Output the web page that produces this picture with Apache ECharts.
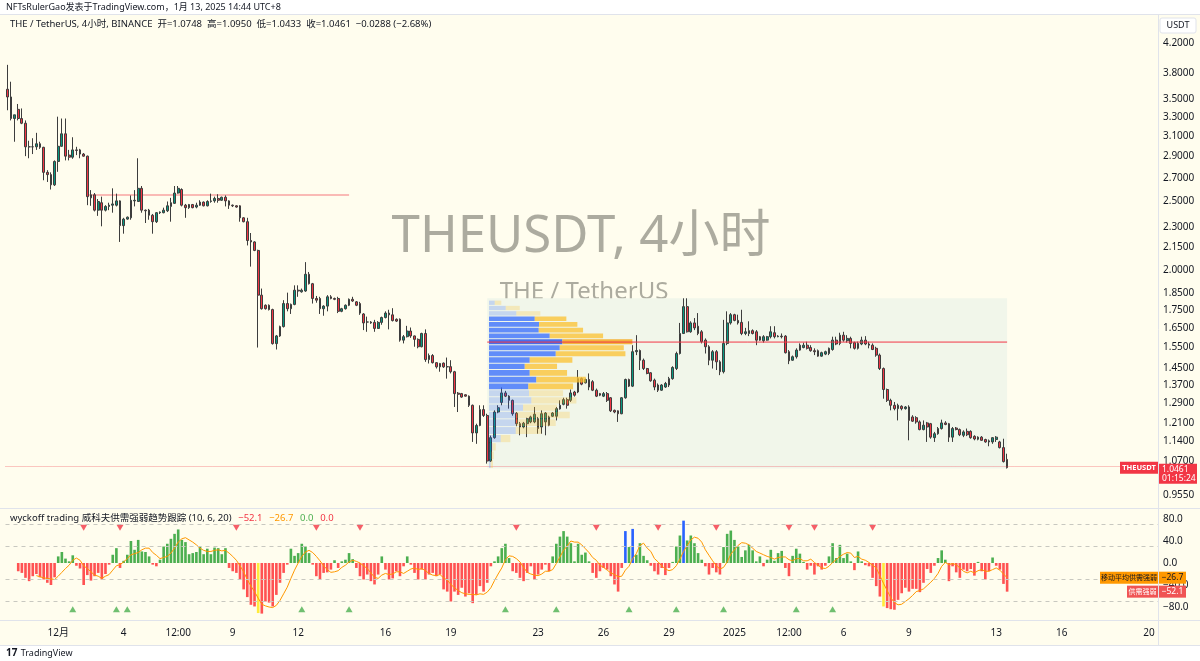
<!DOCTYPE html>
<html><head><meta charset="utf-8">
<script src="https://cdn.jsdelivr.net/npm/echarts@6/dist/echarts.min.js"></script>
<style>html,body{margin:0;padding:0;background:#fff;}#c{width:1200px;height:661px;}</style>
</head><body><div id="c"></div>
<script>
// ---------- DATA ----------
// 4h candles THE/USDT, first bar 2024-11-28 16:00 (UTC+8); rows = [open, high, low, close]
const ohlc = [
[3.61,3.91,3.37,3.52],[3.52,3.70,3.26,3.28],[3.28,3.32,3.04,3.32],[3.38,3.44,3.26,3.28],[3.28,3.39,3.22,3.23],
[3.23,3.26,2.90,2.99],[2.99,3.05,2.88,2.99],[2.99,3.075,2.92,2.99],[2.99,3.13,2.96,3.02],[3.02,3.04,2.97,2.985],
[2.985,2.99,2.68,2.75],[2.75,2.77,2.665,2.73],[2.73,2.75,2.60,2.64],[2.64,2.86,2.63,2.85],[2.85,3.30,2.755,2.995],
[2.995,3.28,2.99,3.12],[3.12,3.28,2.86,2.90],[2.91,2.96,2.86,2.89],[2.89,3.085,2.875,2.96],[2.96,2.99,2.91,2.955],
[2.96,2.97,2.88,2.92],[2.92,2.93,2.895,2.90],[2.90,2.905,2.47,2.54],[2.53,2.595,2.465,2.555],[2.555,2.57,2.42,2.43],
[2.43,2.52,2.385,2.50],[2.49,2.54,2.305,2.43],[2.43,2.47,2.42,2.46],[2.46,2.49,2.43,2.47],[2.47,2.61,2.41,2.48],
[2.47,2.565,2.46,2.505],[2.505,2.51,2.19,2.31],[2.31,2.37,2.25,2.36],[2.36,2.38,2.355,2.375],[2.37,2.55,2.355,2.51],
[2.505,2.595,2.46,2.51],[2.50,2.88,2.50,2.61],[2.61,2.63,2.41,2.43],[2.43,2.435,2.33,2.425],[2.43,2.44,2.355,2.39],
[2.39,2.40,2.25,2.34],[2.34,2.415,2.33,2.41],[2.41,2.42,2.40,2.415],[2.41,2.45,2.405,2.43],[2.425,2.50,2.415,2.465],
[2.46,2.53,2.34,2.49],[2.485,2.63,2.48,2.57],[2.57,2.63,2.565,2.61],[2.60,2.61,2.46,2.47],[2.47,2.48,2.37,2.45],
[2.45,2.48,2.44,2.475],[2.475,2.48,2.445,2.45],[2.455,2.49,2.445,2.47],[2.47,2.51,2.465,2.495],[2.495,2.50,2.46,2.465],
[2.465,2.51,2.46,2.50],[2.50,2.565,2.49,2.505],[2.505,2.54,2.49,2.525],[2.525,2.56,2.49,2.51],[2.51,2.54,2.505,2.535],
[2.535,2.55,2.46,2.505],[2.505,2.51,2.44,2.47],[2.47,2.475,2.455,2.465],[2.465,2.47,2.45,2.455],[2.465,2.47,2.34,2.37],
[2.37,2.375,2.335,2.34],[2.34,2.37,2.165,2.20],[2.20,2.255,2.02,2.19],[2.19,2.195,2.125,2.13],[2.13,2.135,1.55,1.84],
[1.84,1.88,1.755,1.76],[1.78,1.785,1.755,1.76],[1.78,1.785,1.75,1.755],[1.755,1.76,1.565,1.57],[1.57,1.615,1.54,1.61],
[1.61,1.665,1.605,1.66],[1.66,1.81,1.655,1.79],[1.79,1.855,1.745,1.76],[1.76,1.79,1.73,1.785],[1.785,1.90,1.78,1.87],
[1.87,1.90,1.83,1.865],[1.86,1.88,1.855,1.87],[1.865,2.05,1.86,1.97],[1.97,1.985,1.905,1.91],[1.91,1.915,1.79,1.82],
[1.82,1.835,1.795,1.81],[1.82,1.83,1.73,1.76],[1.76,1.78,1.72,1.775],[1.775,1.84,1.745,1.83],[1.83,1.84,1.815,1.82],
[1.82,1.825,1.81,1.815],[1.82,1.83,1.735,1.745],[1.745,1.765,1.74,1.76],[1.76,1.785,1.755,1.78],[1.78,1.82,1.775,1.815],
[1.815,1.83,1.80,1.805],[1.80,1.805,1.775,1.78],[1.79,1.80,1.725,1.735],[1.73,1.735,1.641,1.68],[1.685,1.715,1.632,1.685],
[1.685,1.69,1.675,1.68],[1.683,1.697,1.632,1.65],[1.65,1.69,1.648,1.683],[1.683,1.715,1.67,1.71],[1.71,1.745,1.705,1.735],
[1.735,1.754,1.645,1.725],[1.725,1.763,1.688,1.693],[1.70,1.705,1.685,1.69],[1.70,1.705,1.58,1.588],[1.588,1.615,1.571,1.606],
[1.606,1.664,1.602,1.636],[1.636,1.655,1.60,1.61],[1.61,1.612,1.554,1.592],[1.592,1.597,1.546,1.554],[1.554,1.627,1.551,1.623],
[1.623,1.645,1.479,1.49],[1.49,1.52,1.471,1.51],[1.51,1.517,1.471,1.475],[1.475,1.477,1.447,1.455],[1.455,1.474,1.432,1.471],
[1.473,1.476,1.45,1.455],[1.456,1.50,1.40,1.455],[1.456,1.487,1.424,1.432],[1.432,1.436,1.276,1.333],[1.335,1.34,1.255,1.33],
[1.333,1.336,1.315,1.318],[1.328,1.33,1.32,1.322],[1.322,1.325,1.276,1.283],[1.283,1.286,1.138,1.172],[1.172,1.208,1.131,1.201],
[1.201,1.283,1.198,1.265],[1.265,1.283,1.235,1.241],[1.241,1.248,1.06,1.069],[1.069,1.162,1.066,1.154],[1.154,1.262,1.15,1.255],
[1.255,1.283,1.25,1.273],[1.295,1.36,1.283,1.336],[1.336,1.345,1.318,1.322],[1.322,1.326,1.269,1.304],[1.304,1.307,1.24,1.248],
[1.25,1.255,1.198,1.208],[1.208,1.215,1.163,1.195],[1.195,1.215,1.19,1.21],[1.208,1.232,1.156,1.228],[1.215,1.24,1.21,1.235],
[1.215,1.276,1.21,1.246],[1.228,1.235,1.169,1.189],[1.195,1.262,1.169,1.248],[1.215,1.255,1.163,1.251],[1.235,1.24,1.198,1.202],
[1.238,1.255,1.235,1.251],[1.238,1.276,1.221,1.269],[1.268,1.304,1.265,1.283],[1.287,1.315,1.283,1.307],[1.307,1.315,1.269,1.283],
[1.304,1.351,1.297,1.336],[1.34,1.345,1.32,1.326],[1.34,1.44,1.335,1.40],[1.40,1.405,1.37,1.375],[1.381,1.40,1.378,1.396],
[1.396,1.424,1.348,1.362],[1.386,1.393,1.344,1.348],[1.348,1.355,1.318,1.322],[1.333,1.336,1.322,1.326],[1.322,1.34,1.318,1.333],
[1.333,1.34,1.297,1.304],[1.315,1.318,1.255,1.26],[1.262,1.265,1.25,1.255],[1.26,1.262,1.215,1.248],[1.248,1.318,1.246,1.315],
[1.315,1.40,1.311,1.396],[1.396,1.40,1.362,1.366],[1.366,1.562,1.362,1.529],[1.529,1.614,1.512,1.535],[1.535,1.54,1.44,1.487],
[1.487,1.495,1.44,1.447],[1.447,1.45,1.42,1.424],[1.427,1.43,1.386,1.39],[1.393,1.40,1.348,1.362],[1.371,1.378,1.34,1.348],
[1.348,1.375,1.345,1.371],[1.362,1.385,1.358,1.378],[1.371,1.408,1.362,1.40],[1.40,1.458,1.395,1.452],[1.447,1.529,1.44,1.52],
[1.52,1.68,1.515,1.623],[1.623,1.821,1.62,1.772],[1.772,1.821,1.628,1.632],[1.632,1.689,1.627,1.68],[1.68,1.707,1.641,1.653],
[1.662,1.735,1.614,1.623],[1.632,1.641,1.571,1.58],[1.588,1.597,1.52,1.554],[1.554,1.562,1.463,1.487],[1.487,1.537,1.447,1.529],
[1.529,1.537,1.44,1.479],[1.479,1.487,1.416,1.432],[1.432,1.697,1.424,1.571],[1.571,1.745,1.562,1.68],[1.68,1.735,1.671,1.726],
[1.726,1.731,1.689,1.694],[1.694,1.726,1.671,1.68],[1.683,1.754,1.614,1.623],[1.623,1.653,1.614,1.632],[1.623,1.689,1.609,1.638],
[1.638,1.645,1.618,1.623],[1.632,1.641,1.562,1.588],[1.606,1.61,1.585,1.588],[1.585,1.614,1.575,1.606],[1.588,1.61,1.585,1.606],
[1.606,1.662,1.597,1.632],[1.627,1.662,1.597,1.606],[1.606,1.614,1.603,1.609],[1.609,1.623,1.597,1.606],[1.609,1.614,1.52,1.524],
[1.529,1.537,1.468,1.484],[1.487,1.51,1.484,1.504],[1.504,1.546,1.495,1.537],[1.537,1.571,1.534,1.562],[1.55,1.575,1.546,1.562],
[1.562,1.58,1.54,1.546],[1.55,1.562,1.529,1.534],[1.534,1.546,1.512,1.529],[1.534,1.54,1.504,1.507],[1.507,1.529,1.504,1.524],
[1.517,1.534,1.512,1.529],[1.52,1.55,1.512,1.546],[1.54,1.606,1.534,1.588],[1.588,1.606,1.562,1.568],[1.571,1.627,1.562,1.614],
[1.614,1.632,1.58,1.588],[1.585,1.614,1.575,1.597],[1.597,1.606,1.546,1.571],[1.575,1.58,1.54,1.546],[1.546,1.58,1.54,1.571],
[1.568,1.606,1.562,1.588],[1.588,1.609,1.562,1.568],[1.568,1.58,1.546,1.562],[1.562,1.571,1.537,1.54],[1.546,1.554,1.504,1.512],
[1.512,1.52,1.44,1.447],[1.447,1.452,1.311,1.351],[1.351,1.355,1.297,1.304],[1.304,1.311,1.262,1.283],[1.283,1.297,1.262,1.269],
[1.269,1.29,1.221,1.283],[1.279,1.283,1.262,1.269],[1.269,1.28,1.265,1.276],[1.276,1.283,1.144,1.221],[1.235,1.242,1.215,1.218],
[1.232,1.238,1.208,1.215],[1.215,1.221,1.182,1.185],[1.185,1.221,1.182,1.202],[1.211,1.215,1.138,1.195],[1.208,1.211,1.15,1.156],
[1.154,1.176,1.138,1.169],[1.169,1.195,1.165,1.189],[1.189,1.224,1.185,1.211],[1.211,1.218,1.202,1.205],[1.208,1.211,1.138,1.156],
[1.156,1.195,1.138,1.189],[1.191,1.195,1.182,1.185],[1.185,1.189,1.16,1.165],[1.163,1.182,1.156,1.176],[1.178,1.189,1.16,1.165],
[1.178,1.182,1.15,1.154],[1.159,1.163,1.144,1.149],[1.148,1.159,1.144,1.156],[1.156,1.16,1.142,1.144],[1.147,1.15,1.135,1.138],
[1.138,1.147,1.122,1.142],[1.138,1.156,1.131,1.154],[1.147,1.16,1.138,1.156],[1.138,1.142,1.114,1.117],[1.117,1.15,1.064,1.067],
[1.0748,1.095,1.0433,1.0461]
];

// Wyckoff supply/demand strength histogram (one value per candle)
const hist = [
null,null,null,-15,-18,-27,-33,-24,-20,-26,-30,-36,-40,-26,12,20,8,3,14,
-5,-10,-40,-22,-32,-24,-18,-30,-20,-3,
15,27,-9,4,15,40,24,42,21,20,12,-3,-6,
6,30,35,44,53,61,42,38,16,18,20,30,16,26,16,28,27,16,27,
-9,-15,-18,-30,-48,-62,-76,-79,-91,-92,-70,-72,-79,-58,-36,-18,-3,
26,13,18,35,30,18,-3,-24,-30,-18,-17,-12,5,-9,3,6,18,7,
-9,-24,-30,-21,-33,-39,-21,12,-12,-30,-28,-15,-24,-6,12,
-3,-18,-30,-12,-30,-21,-18,-24,-21,-48,-52,-70,-52,-58,-45,-61,-55,-73,-58,-42,-52,-36,-6,
3,12,27,35,9,-15,-18,-27,-33,-18,-6,-30,-21,-12,-3,-15,
12,35,48,58,48,36,3,35,15,19,3,-18,-27,
-15,-9,-12,-24,-39,-52,-9,58,29,62,15,36,13,5,-5,-15,-21,-9,-22,-9,2,30,50,77,41,50,36,18,6,
-6,-21,-9,-17,-21,29,53,59,42,30,11,23,33,23,3,12,-6,6,24,4,18,22,-9,-24,13,26,17,2,
-12,-5,-21,-6,-12,-5,12,36,9,33,9,17,3,-13,21,3,-4,-6,-27,-42,-61,-79,-82,-84,-85,-67,-55,-45,
-52,-47,-47,-53,-36,-11,-18,-5,9,23,6,-33,-6,-17,-27,-12,-15,-11,-23,2,-15,-30,-15,10,-5,-12,-38,-52.1
];
// moving average of the strength (orange line)
const histMA = [
null,null,null,null,null,null,null,null,-23,-25,-27,-28,-29,-30,-24,-17,-10,-4,5,9,5,-5,-10,-16,-22,-24,-28,-24,-21,-13,
-5,-3,2,8,15,17,19,24,27,27,19,14,8,10,12,18,27,38,44,46,42,38,33,27,23,21,21,23,24,22,
23,18,12,5,-5,-16,-30,-42,-52,-64,-75,-78,-80,-81,-77,-68,-56,-44,-28,-13,0,12,20,23,19,12,4,-5,-12,-17,
-16,-14,-8,-4,2,5,3,0,-5,-10,-18,-26,-28,-22,-19,-21,-20,-16,-16,-19,-15,-11,-9,-12,-10,-14,-19,-22,-23,-21,
-27,-31,-39,-45,-50,-54,-56,-57,-57,-58,-56,-57,-53,-45,-32,-20,-9,6,13,12,8,2,-8,-17,-20,-22,-23,-20,-15,-15,
-12,-1,11,23,31,40,38,38,33,26,19,10,5,-4,-8,-13,-18,-21,-25,-24,-13,-6,8,17,32,36,27,21,8,2,
-5,-11,-14,-12,-5,7,21,32,42,47,45,38,24,14,4,-5,-11,-8,2,16,24,32,37,36,33,27,21,18,15,12,
10,7,10,11,11,6,4,8,8,4,4,7,1,-4,-9,-10,-6,1,6,12,16,19,18,10,12,7,5,1,-4,-9,
-23,-37,-50,-63,-72,-76,-75,-70,-65,-59,-52,-50,-47,-41,-35,-28,-19,-6,1,-3,-1,-3,-9,-15,-18,-15,-18,-14,-12,-15,
-15,-12,-9,-13,-20,-26.7
];
const strongUp = [170,172,186];     // blue bars
const strongDown = [69,241];        // yellow bars
const sellMarks = [21,31,63,85,97,140,162,179,195,215,222,238];
const buyMarks = [18,30,33,81,94,137,151,171,184,197,217,227];

// volume profile (fixed range), 25 price rows from bottom, up / down volume
const profUp   = [1.7,2.3,3.3,11.7,26.7,26.7,26.7,34,42.3,40,39.3,47.3,40.7,35.7,40.7,66.7,70.7,73.3,60.7,49.7,50,45.7,27.3,16.7,5.7];
const profDown = [2.3,2.4,3.4,9.6,25.6,40,54,34,45,34,44.7,49.4,37.3,32.3,42.6,69.6,64,70,53.3,44.3,38.3,31.6,24,14,6.6];
const profLow = 1.0433, profHigh = 1.81, pocRow = 17, vaRows = [10,21];
const boxRange = {from:132, to:275, low:1.0433, high:1.821};
const levelOld = {price:2.553, from:22, to:94};
const levelPoc = {price:1.578, from:132, to:275};
const lastPrice = 1.0461, lastMA = -26.7, lastHist = -52.1;

const priceTicks = [4.2,3.8,3.5,3.3,3.1,2.9,2.7,2.5,2.3,2.15,2.0,1.85,1.75,1.65,1.55,1.45,1.37,1.29,1.21,1.14,1.07,0.955];
const indTicks = [80,40,0,-40,-80];
const tickLabels = [
['2024-12-01 00:00','12月'],['2024-12-04 00:00','4'],['2024-12-06 12:00','12:00'],['2024-12-09 00:00','9'],
['2024-12-12 00:00','12'],['2024-12-16 00:00','16'],['2024-12-19 00:00','19'],['2024-12-23 00:00','23'],
['2024-12-26 00:00','26'],['2024-12-29 00:00','29'],['2025-01-01 00:00','2025'],['2025-01-03 12:00','12:00'],
['2025-01-06 00:00','6'],['2025-01-09 00:00','9'],['2025-01-13 00:00','13'],['2025-01-16 00:00','16'],['2025-01-20 00:00','20']
];

// ---------- BUILD ----------
const NCAT = 317;
const startMs = Date.UTC(2024,10,28,16,0);
const p2 = n => String(n).padStart(2,'0');
const cats = [];
for (let i = 0; i < NCAT; i++) {
  const d = new Date(startMs + i*4*3600e3);
  cats.push(d.getUTCFullYear()+'-'+p2(d.getUTCMonth()+1)+'-'+p2(d.getUTCDate())+' '+p2(d.getUTCHours())+':'+p2(d.getUTCMinutes()));
}
const labelMap = {}; tickLabels.forEach(t => labelMap[t[0]] = t[1]);
const L = Math.log;
const Y_MIN = -0.0870, Y_MAX = 1.5300;
const MINUS = '\u2212';
const fmtSigned = (v, d) => (v < 0 ? MINUS : '') + Math.abs(v).toFixed(d);

const UP = '#089981', DOWN = '#f23645', WICK = '#3d3d3d';
const candleData = ohlc.map(r => [L(r[0]), L(r[3]), L(r[2]), L(r[1])]);
const histData = hist.map((v,i) => {
  if (v === null) return '-';
  let c = v >= 0 ? '#4caf50' : '#ff5252';
  if (strongUp.includes(i)) c = '#2962ff';
  if (strongDown.includes(i)) c = '#ffeb3b';
  return {value:v, itemStyle:{color:c}};
});
const profMax = Math.max(...profUp.map((u,k)=>u+profDown[k]));
const FONT = "'Noto Sans','Noto Sans CJK SC',sans-serif";

const chart = echarts.init(document.getElementById('c'), null, {renderer:'canvas'});
const gridL = 5.5, gridR = 42;
const option = {
  animation:false,
  backgroundColor:'#ffffff',
  textStyle:{fontFamily:FONT},
  grid:[
    {left:gridL, right:gridR, top:14, height:494},
    {left:gridL, right:gridR, top:508, height:110},
    {left:489, width:143.4, top:14, height:494}
  ],
  xAxis:[
    {type:'category', gridIndex:0, data:cats, show:false, boundaryGap:true},
    {type:'category', gridIndex:1, data:cats, boundaryGap:true,
      axisLine:{show:false}, axisTick:{show:false}, splitLine:{show:false},
      axisLabel:{interval:(i,v)=>labelMap[v]!==undefined, formatter:v=>labelMap[v]||'', color:'#131722', fontSize:10, margin:10, hideOverlap:false, fontFamily:FONT}},
    {type:'value', gridIndex:2, min:0, max:profMax, show:false}
  ],
  yAxis:[
    {type:'value', gridIndex:0, min:Y_MIN, max:Y_MAX, position:'right',
      axisLine:{show:false}, axisTick:{show:false}, splitLine:{show:false},
      axisLabel:{customValues:priceTicks.map(L), formatter:v=>Math.exp(v).toFixed(4), color:'#131722', fontSize:10, margin:5, fontFamily:FONT}},
    {type:'value', gridIndex:1, min:-100, max:100, position:'right',
      axisLine:{show:false}, axisTick:{show:false}, splitLine:{show:false},
      axisLabel:{customValues:indTicks, formatter:v=>fmtSigned(v,1), color:'#131722', fontSize:10, margin:5, fontFamily:FONT}},
    {type:'value', gridIndex:2, min:Y_MIN, max:Y_MAX, show:false}
  ],
  series:[
    { // fixed range profile box
      type:'custom', xAxisIndex:0, yAxisIndex:0, z:1, silent:true,
      data:[[boxRange.from, boxRange.to, L(boxRange.low), L(boxRange.high)]],
      renderItem:(p,api)=>{
        const a = api.coord([api.value(0), api.value(3)]);
        const b = api.coord([api.value(1), api.value(2)]);
        return {type:'rect', shape:{x:a[0], y:a[1], width:b[0]-a[0], height:b[1]-a[1]}, style:{fill:'#f1f6ea'}};
      }
    },
    {type:'line', xAxisIndex:0, yAxisIndex:0, z:2, symbol:'none', silent:true,
      data:[[cats[levelOld.from], L(levelOld.price)],[cats[levelOld.to], L(levelOld.price)]],
      lineStyle:{color:'rgba(242,54,69,0.45)', width:1.5}},
    {type:'line', xAxisIndex:0, yAxisIndex:0, z:6, symbol:'none', silent:true,
      data:[[cats[levelPoc.from], L(levelPoc.price)],[cats[levelPoc.to], L(levelPoc.price)]],
      lineStyle:{color:'#f23645', width:1}},
    {type:'candlestick', xAxisIndex:0, yAxisIndex:0, z:3, data:candleData, barWidth:'62%',
      itemStyle:{color:UP, color0:DOWN, borderColor:WICK, borderColor0:WICK, borderWidth:1},
      markLine:{silent:true, symbol:'none', label:{show:false},
        lineStyle:{color:'rgba(242,54,69,0.55)', type:'dotted', width:1},
        data:[{yAxis:L(lastPrice)}]}
    },
    { // volume profile rows
      type:'custom', xAxisIndex:2, yAxisIndex:2, z:5, silent:true,
      data:profUp.map((u,k)=>[k,u,profDown[k]]),
      renderItem:(p,api)=>{
        const k = api.value(0), u = api.value(1), d = api.value(2);
        const step = (profHigh-profLow)/profUp.length;
        const lo = profLow + k*step, hi = lo + step;
        const a = api.coord([0, L(hi)]), b = api.coord([u, L(lo)]), c = api.coord([u+d, L(lo)]);
        const h = Math.max(1, b[1]-a[1]-1);
        let cu, cd;
        if (k === pocRow) { cu='rgba(35,80,235,0.82)'; cd='rgba(245,168,30,0.85)'; }
        else if (k >= vaRows[0] && k <= vaRows[1]) { cu='rgba(41,98,255,0.72)'; cd='rgba(251,192,45,0.75)'; }
        else { cu='rgba(41,98,255,0.22)'; cd='rgba(251,192,45,0.25)'; }
        return {type:'group', children:[
          {type:'rect', shape:{x:a[0], y:a[1]+0.5, width:b[0]-a[0], height:h}, style:{fill:cu}},
          {type:'rect', shape:{x:b[0], y:a[1]+0.5, width:c[0]-b[0], height:h}, style:{fill:cd}}
        ]};
      }
    },
    {type:'bar', xAxisIndex:1, yAxisIndex:1, z:3, data:histData, barWidth:'72%',
      markLine:{silent:true, symbol:'none', label:{show:false},
        lineStyle:{color:'#c8c8c0', type:[4,4], width:1},
        data:[{yAxis:70},{yAxis:30},{yAxis:-30},{yAxis:-70}]}},
    {type:'line', xAxisIndex:1, yAxisIndex:1, z:4, data:histMA, symbol:'none', connectNulls:false,
      lineStyle:{color:'#ff9800', width:1}},
    {type:'scatter', xAxisIndex:1, yAxisIndex:1, z:4, symbol:'triangle', symbolRotate:180, symbolSize:[7,6],
      itemStyle:{color:'#f23645'}, data:sellMarks.map(n=>[cats[n], 64])},
    {type:'scatter', xAxisIndex:1, yAxisIndex:1, z:4, symbol:'triangle', symbolSize:[7,6],
      itemStyle:{color:'#4caf50'}, data:buyMarks.map(n=>[cats[n], -84])}
  ],
  graphic:[
    {type:'rect', z:-10, silent:true, shape:{x:0,y:14,width:1200,height:631}, style:{fill:'#fffdee'}},
    {type:'text', z:1, silent:true, style:{x:581, y:237, text:'THEUSDT, 4小时', fill:'rgba(90,90,80,0.5)', font:"51px 'Noto Sans','Noto Sans CJK SC',sans-serif", textAlign:'center', textVerticalAlign:'middle'}},
    {type:'text', z:1, silent:true, style:{x:584, y:292, text:'THE / TetherUS', fill:'rgba(90,90,80,0.5)', font:"24px 'Noto Sans',sans-serif", textAlign:'center', textVerticalAlign:'middle'}},
    {type:'text', z:20, silent:true, style:{x:6, y:7, text:'NFTsRulerGao发表于TradingView.com，1月 13, 2025 14:44 UTC+8', fill:'#131722', font:"9px 'Noto Sans','Noto Sans CJK SC',sans-serif", textVerticalAlign:'middle'}},
    {type:'text', z:20, silent:true, style:{x:10, y:24, text:'THE / TetherUS, 4小时, BINANCE  开=1.0748  高=1.0950  低=1.0433  收=1.0461  −0.0288 (−2.68%)', fill:'#131722', font:"9.5px 'Noto Sans','Noto Sans CJK SC',sans-serif", textVerticalAlign:'middle'}},
    {type:'text', z:20, silent:true, style:{x:10, y:518, textVerticalAlign:'middle',
      text:'{a|wyckoff trading 威科夫供需强弱趋势跟踪 (10, 6, 20)}  {r|−52.1}  {o|−26.7}  {g|0.0}  {r|0.0}',
      rich:{a:{fill:'#131722', font:"9.5px 'Noto Sans','Noto Sans CJK SC',sans-serif"},
            r:{fill:'#f23645', font:"9.5px 'Noto Sans',sans-serif"},
            o:{fill:'#ff9800', font:"9.5px 'Noto Sans',sans-serif"},
            g:{fill:'#4caf50', font:"9.5px 'Noto Sans',sans-serif"}}}},
    {type:'line', z:20, silent:true, shape:{x1:0,y1:14.5,x2:1200,y2:14.5}, style:{stroke:'#e0e3eb', lineWidth:1}},
    {type:'line', z:20, silent:true, shape:{x1:0,y1:508.5,x2:1200,y2:508.5}, style:{stroke:'#e0e3eb', lineWidth:1}},
    {type:'line', z:20, silent:true, shape:{x1:0,y1:620.5,x2:1200,y2:620.5}, style:{stroke:'#e0e3eb', lineWidth:1}},
    {type:'line', z:20, silent:true, shape:{x1:0,y1:645.5,x2:1200,y2:645.5}, style:{stroke:'#e0e3eb', lineWidth:1}},
    {type:'line', z:20, silent:true, shape:{x1:1158.5,y1:14,x2:1158.5,y2:645}, style:{stroke:'#e0e3eb', lineWidth:1}},
    {type:'rect', z:20, silent:true, shape:{x:1160,y:18,width:36,height:15,r:2}, style:{fill:'#ffffff', stroke:'#e0e3eb'}},
    {type:'text', z:21, silent:true, style:{x:1178, y:25.5, text:'USDT', fill:'#131722', font:"9px 'Noto Sans',sans-serif", textAlign:'center', textVerticalAlign:'middle'}},
    {type:'text', z:21, silent:true, style:{x:6, y:653, text:'{l|17} {t|TradingView}', textVerticalAlign:'middle',
      rich:{l:{fill:'#131722', font:"bold 10px 'Noto Sans',sans-serif"}, t:{fill:'#131722', font:"9px 'Noto Sans',sans-serif"}}}}
  ]
};
chart.setOption(option);

// value tags on the right, placed through the axes' scales
const yLast = chart.convertToPixel({yAxisIndex:0}, L(lastPrice));
const yMA = chart.convertToPixel({yAxisIndex:1}, lastMA);
const yH = chart.convertToPixel({yAxisIndex:1}, lastHist);
const cjkTag = "7px 'Noto Sans CJK SC',sans-serif";
const numTag = "8.5px 'Noto Sans',sans-serif";
const tags = [
  {type:'rect', z:30, silent:true, shape:{x:1120, y:yLast-6, width:38, height:12}, style:{fill:'#f23645'}},
  {type:'text', z:31, silent:true, style:{x:1139, y:yLast, text:'THEUSDT', fill:'#fff', font:"bold 7.5px 'Noto Sans',sans-serif", textAlign:'center', textVerticalAlign:'middle'}},
  {type:'rect', z:30, silent:true, shape:{x:1159, y:yLast-4, width:38, height:20}, style:{fill:'#f23645'}},
  {type:'text', z:31, silent:true, style:{x:1162, y:yLast+1.5, text:lastPrice.toFixed(4), fill:'#fff', font:numTag, textVerticalAlign:'middle'}},
  {type:'text', z:31, silent:true, style:{x:1162, y:yLast+10.5, text:'01:15:24', fill:'#fff', font:numTag, textVerticalAlign:'middle'}},
  {type:'rect', z:30, silent:true, shape:{x:1100, y:yMA-6, width:58, height:12}, style:{fill:'#ff9800'}},
  {type:'text', z:31, silent:true, style:{x:1129, y:yMA, text:'移动平均供需强弱', fill:'#131722', font:cjkTag, textAlign:'center', textVerticalAlign:'middle'}},
  {type:'rect', z:30, silent:true, shape:{x:1159, y:yMA-6, width:27, height:12}, style:{fill:'#ff9800'}},
  {type:'text', z:31, silent:true, style:{x:1172.5, y:yMA, text:fmtSigned(lastMA,1), fill:'#131722', font:numTag, textAlign:'center', textVerticalAlign:'middle'}},
  {type:'rect', z:30, silent:true, shape:{x:1127, y:yH-6, width:31, height:12}, style:{fill:'#f05454'}},
  {type:'text', z:31, silent:true, style:{x:1142.5, y:yH, text:'供需强弱', fill:'#fff', font:cjkTag, textAlign:'center', textVerticalAlign:'middle'}},
  {type:'rect', z:30, silent:true, shape:{x:1159, y:yH-6, width:27, height:12}, style:{fill:'#f05454'}},
  {type:'text', z:31, silent:true, style:{x:1172.5, y:yH, text:fmtSigned(lastHist,1), fill:'#fff', font:numTag, textAlign:'center', textVerticalAlign:'middle'}}
];
chart.setOption({graphic: option.graphic.concat(tags)});
</script></body></html>
